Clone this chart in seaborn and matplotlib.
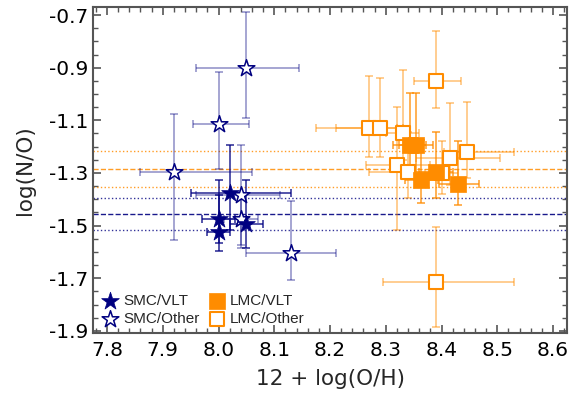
import numpy as np
import pandas as pd
import matplotlib
matplotlib.use('Agg')
import matplotlib.pyplot as plt
import seaborn as sns

# SMC, VLT sample (filled stars)
smc_vlt_x = [8.02, 8.00, 8.00, 8.05]
smc_vlt_y = [-1.375, -1.475, -1.525, -1.495]
smc_vlt_xlo = [0.07, 0.03, 0.02, 0.03]
smc_vlt_xhi = [0.11, 0.03, 0.02, 0.03]
smc_vlt_ylo = [0.14, 0.09, 0.07, 0.09]
smc_vlt_yhi = [0.18, 0.15, 0.14, 0.17]

# SMC, other sources (open stars)
smc_oth_x = [8.05, 8.00, 7.92, 8.04, 8.04, 8.13]
smc_oth_y = [-0.90, -1.115, -1.295, -1.385, -1.475, -1.605]
smc_oth_xlo = [0.09, 0.045, 0.06, 0.08, 0.03, 0.08]
smc_oth_xhi = [0.095, 0.055, 0.14, 0.07, 0.03, 0.08]
smc_oth_ylo = [0.19, 0.17, 0.26, 0.20, 0.10, 0.10]
smc_oth_yhi = [0.21, 0.20, 0.22, 0.19, 0.10, 0.20]

# LMC, VLT sample (filled squares)
lmc_vlt_x = [8.343, 8.354, 8.364, 8.39, 8.43]
lmc_vlt_y = [-1.195, -1.195, -1.325, -1.295, -1.34]
lmc_vlt_xlo = [0.03, 0.03, 0.03, 0.03, 0.035]
lmc_vlt_xhi = [0.03, 0.03, 0.03, 0.03, 0.037]
lmc_vlt_ylo = [0.10, 0.10, 0.09, 0.10, 0.08]
lmc_vlt_yhi = [0.20, 0.20, 0.15, 0.15, 0.16]

# LMC, other sources (open squares)
lmc_oth_x = [8.39, 8.39, 8.27, 8.29, 8.33, 8.32, 8.34, 8.415, 8.445, 8.40]
lmc_oth_y = [-0.95, -1.715, -1.13, -1.13, -1.15, -1.27, -1.295, -1.245, -1.22, -1.30]
lmc_oth_xlo = [0.04, 0.095, 0.095, 0.08, 0.03, 0.055, 0.07, 0.06, 0.04, 0.03]
lmc_oth_xhi = [0.045, 0.14, 0.05, 0.04, 0.03, 0.06, 0.05, 0.09, 0.085, 0.03]
lmc_oth_ylo = [0.105, 0.17, 0.11, 0.11, 0.10, 0.245, 0.10, 0.10, 0.10, 0.08]
lmc_oth_yhi = [0.19, 0.21, 0.20, 0.19, 0.24, 0.22, 0.15, 0.21, 0.19, 0.12]

# mean and +/- std lines
lmc_mean, lmc_std = -1.285, 0.07
smc_mean, smc_std = -1.455, 0.06

navy = '#000080'
orange = '#ff8c00'

sns.set_style('ticks')
plt.rcParams['font.family'] = ['DejaVu Sans']

fig = plt.figure(figsize=(5.71, 3.96), dpi=100)
ax = fig.add_axes([0.163, 0.159, 0.830, 0.823])

# reference lines
ax.axhline(lmc_mean, color=orange, ls='--', lw=1.0, alpha=0.85, zorder=1)
ax.axhline(lmc_mean + lmc_std, color=orange, ls=':', lw=1.0, alpha=0.85, zorder=1)
ax.axhline(lmc_mean - lmc_std, color=orange, ls=':', lw=1.0, alpha=0.85, zorder=1)
ax.axhline(smc_mean, color=navy, ls='--', lw=1.0, alpha=0.9, zorder=1)
ax.axhline(smc_mean + smc_std, color=navy, ls=':', lw=1.0, alpha=0.8, zorder=1)
ax.axhline(smc_mean - smc_std, color=navy, ls=':', lw=1.0, alpha=0.8, zorder=1)

groups = [
    (smc_oth_x, smc_oth_y, smc_oth_xlo, smc_oth_xhi, smc_oth_ylo, smc_oth_yhi, navy, 0.45),
    (smc_vlt_x, smc_vlt_y, smc_vlt_xlo, smc_vlt_xhi, smc_vlt_ylo, smc_vlt_yhi, navy, 0.85),
    (lmc_oth_x, lmc_oth_y, lmc_oth_xlo, lmc_oth_xhi, lmc_oth_ylo, lmc_oth_yhi, orange, 0.55),
    (lmc_vlt_x, lmc_vlt_y, lmc_vlt_xlo, lmc_vlt_xhi, lmc_vlt_ylo, lmc_vlt_yhi, orange, 0.85),
]
for gx, gy, xlo, xhi, ylo, yhi, col, a in groups:
    ax.errorbar(gx, gy, xerr=[xlo, xhi], yerr=[ylo, yhi], fmt='none',
                ecolor=col, alpha=a, elinewidth=1.1, capsize=3, capthick=1.1, zorder=2)

sns.scatterplot(x=smc_oth_x, y=smc_oth_y, marker='*', s=160, color='white',
                edgecolor=navy, linewidth=1.1, label='SMC/Other', ax=ax, zorder=3)
sns.scatterplot(x=smc_vlt_x, y=smc_vlt_y, marker='*', s=180, color=navy,
                edgecolor=navy, linewidth=0.5, label='SMC/VLT', ax=ax, zorder=4)
sns.scatterplot(x=lmc_oth_x, y=lmc_oth_y, marker='s', s=100, color='white',
                edgecolor=orange, linewidth=1.5, label='LMC/Other', ax=ax, zorder=3)
sns.scatterplot(x=lmc_vlt_x, y=lmc_vlt_y, marker='s', s=135, color=orange,
                edgecolor=orange, linewidth=0.5, label='LMC/VLT', ax=ax, zorder=4)

ax.set_xlim(7.775, 8.625)
ax.set_ylim(-1.908, -0.67)
ax.set_xticks(np.arange(7.8, 8.61, 0.1))
ax.set_xticks(np.arange(7.78, 8.63, 0.02), minor=True)
ax.set_yticks(np.arange(-1.9, -0.69, 0.2))
ax.set_yticks(np.arange(-1.9, -0.66, 0.05), minor=True)
ax.xaxis.set_major_formatter(matplotlib.ticker.FormatStrFormatter('%.1f'))
ax.yaxis.set_major_formatter(matplotlib.ticker.FormatStrFormatter('%.1f'))
ax.tick_params(which='both', direction='in', top=True, right=True, colors='#555555',
               labelcolor='black', labelsize=14.5)
ax.tick_params(which='major', length=6, width=1.2)
ax.tick_params(which='minor', length=3.5, width=1.0)
ax.tick_params(axis='x', which='major', pad=6)
for sp in ax.spines.values():
    sp.set_color('#555555')
    sp.set_linewidth(1.5)

ax.set_xlabel('12 + log(O/H)', fontsize=15.5, labelpad=6)
ax.set_ylabel('log(N/O)', fontsize=15.5, labelpad=10)

h, l = ax.get_legend_handles_labels()
order = [l.index('SMC/VLT'), l.index('SMC/Other'), l.index('LMC/VLT'), l.index('LMC/Other')]
ax.legend([h[i] for i in order], [l[i] for i in order], ncol=2, loc='lower left',
          frameon=False, prop={'family': 'Liberation Sans', 'size': 11},
          handletextpad=0.2, labelspacing=0.3, columnspacing=0.5,
          borderaxespad=0.05, handlelength=1.3, bbox_to_anchor=(0.0, 0.0))

fig.savefig('out.png', dpi=100)
